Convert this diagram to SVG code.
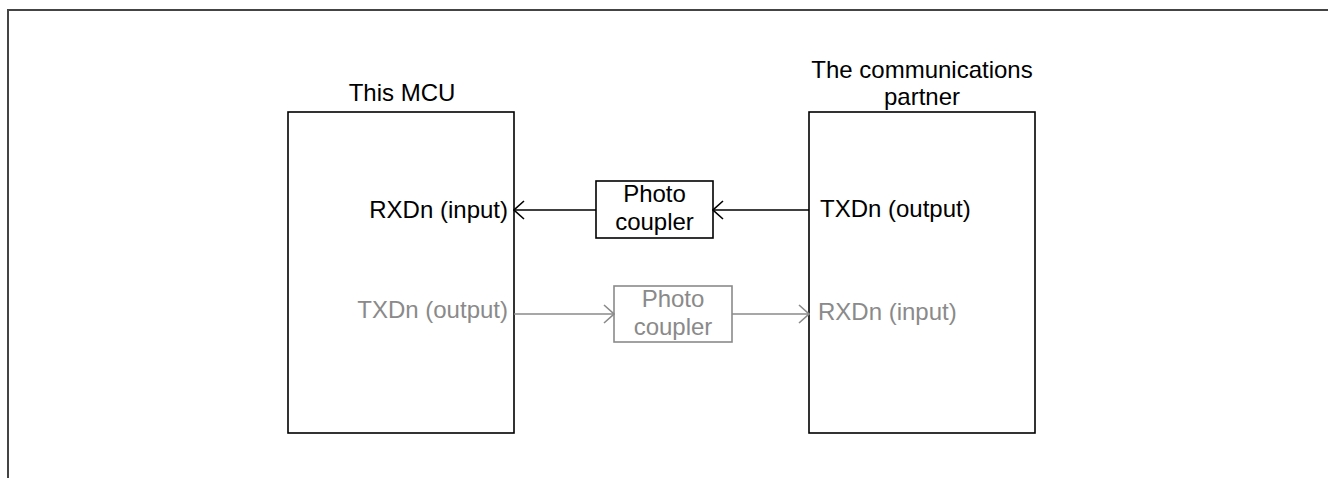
<svg xmlns="http://www.w3.org/2000/svg" width="1328" height="478" viewBox="0 0 1328 478">
<style>
.t{font-family:"Liberation Sans",Arial,sans-serif;font-size:24px;fill:#000}
.g{fill:#8a8a8a}
.box{fill:#fff;stroke:#000;stroke-width:1.6}
.gbox{fill:#fff;stroke:#8a8a8a;stroke-width:1.6}
.ln{fill:none;stroke:#000;stroke-width:1.6}
.gln{fill:none;stroke:#8a8a8a;stroke-width:1.6}
</style>
<defs>
<marker id="ab" viewBox="0 0 12 20" refX="11" refY="10" markerWidth="12" markerHeight="20" markerUnits="userSpaceOnUse" orient="auto">
<path d="M1,1 L11,10 L1,19" fill="none" stroke="#000" stroke-width="1.6"/>
</marker>
<marker id="ag" viewBox="0 0 12 20" refX="11" refY="10" markerWidth="12" markerHeight="20" markerUnits="userSpaceOnUse" orient="auto">
<path d="M1,1 L11,10 L1,19" fill="none" stroke="#8a8a8a" stroke-width="1.6"/>
</marker>
</defs>
<rect width="1328" height="478" fill="#fff"/>
<g id="frame">
<path d="M8,478 L8,10 L1328,10" fill="none" stroke="#444" stroke-width="2"/>
</g>
<g id="mcu">
<rect class="box" x="288" y="112" width="226" height="321"/>
<text class="t" x="402" y="101" text-anchor="middle">This MCU</text>
<text class="t" x="508" y="218" text-anchor="end">RXDn (input)</text>
<text class="t g" x="508" y="318" text-anchor="end">TXDn (output)</text>
</g>
<g id="partner">
<rect class="box" x="809" y="112" width="226" height="321"/>
<text class="t" x="922" y="78" text-anchor="middle">The communications</text>
<text class="t" x="922" y="105" text-anchor="middle">partner</text>
<text class="t" x="820" y="217">TXDn (output)</text>
<text class="t g" x="818" y="320">RXDn (input)</text>
</g>
<g id="pc1">
<rect class="box" x="596" y="181" width="117" height="57"/>
<text class="t" x="654.5" y="202" text-anchor="middle">Photo</text>
<text class="t" x="654.5" y="230" text-anchor="middle">coupler</text>
</g>
<g id="pc2">
<rect class="gbox" x="614" y="286" width="118" height="56"/>
<text class="t g" x="673" y="307" text-anchor="middle">Photo</text>
<text class="t g" x="673" y="335" text-anchor="middle">coupler</text>
</g>
<g id="connectors">
<line class="ln" x1="809" y1="210" x2="713" y2="210" marker-end="url(#ab)"/>
<line class="ln" x1="596" y1="210" x2="514" y2="210" marker-end="url(#ab)"/>
<line class="gln" x1="514" y1="314" x2="614" y2="314" marker-end="url(#ag)"/>
<line class="gln" x1="732" y1="314" x2="809" y2="314" marker-end="url(#ag)"/>
</g>
</svg>
